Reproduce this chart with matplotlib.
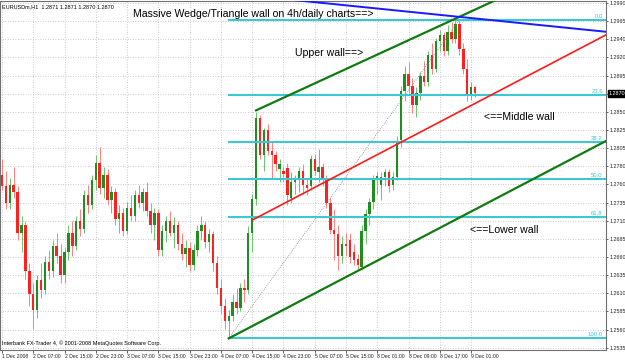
import numpy as np
import matplotlib
matplotlib.use("Agg")
import matplotlib.pyplot as plt
import matplotlib.transforms as mtransforms

plt.rcParams['font.family'] = ['Liberation Sans', 'DejaVu Sans']

# EURUSDm H1 bars, 1 Dec 2008 23:00 .. 9 Dec 2008
opens = [1.2765, 1.2750, 1.2728, 1.2752, 1.2742, 1.2690, 1.2700, 1.2640, 1.2610, 1.2590,
         1.2628, 1.2615, 1.2652, 1.2640, 1.2672, 1.2660, 1.2635, 1.2665, 1.2690, 1.2672,
         1.2705, 1.2695, 1.2738, 1.2725, 1.2758, 1.2780, 1.2748, 1.2765, 1.2732, 1.2742,
         1.2708, 1.2715, 1.2692, 1.2722, 1.2712, 1.2738, 1.2728, 1.2742, 1.2718, 1.2700,
         1.2715, 1.2668, 1.2692, 1.2705, 1.2690, 1.2700, 1.2675, 1.2662, 1.2670, 1.2648,
         1.2668, 1.2692, 1.2700, 1.2678, 1.2688, 1.2650, 1.2618, 1.2595, 1.2575, 1.2582,
         1.2600, 1.2592, 1.2618, 1.2615, 1.2690, 1.2733, 1.2838, 1.2790, 1.2822, 1.2796,
         1.2790, 1.2772, 1.2770, 1.2773, 1.2735, 1.2755, 1.2758, 1.2770, 1.2752, 1.2750,
         1.2785, 1.2768, 1.2775, 1.2760, 1.2728, 1.2693, 1.2688, 1.2660, 1.2675, 1.2680,
         1.2665, 1.2656, 1.2646, 1.2692, 1.2714, 1.2730, 1.2759, 1.2752, 1.2762, 1.2768,
         1.2752, 1.2762, 1.2810, 1.2873, 1.2895, 1.2880, 1.2855, 1.2870, 1.2892, 1.2885,
         1.2920, 1.2902, 1.2938, 1.2945, 1.2925, 1.2950, 1.2940, 1.2960, 1.2928, 1.2902,
         1.2868, 1.2878]
highs = [1.2785, 1.2770, 1.2760, 1.2775, 1.2750, 1.2712, 1.2705, 1.2650, 1.2625, 1.2635,
         1.2650, 1.2660, 1.2668, 1.2680, 1.2690, 1.2675, 1.2670, 1.2700, 1.2705, 1.2712,
         1.2720, 1.2745, 1.2752, 1.2765, 1.2790, 1.2800, 1.2775, 1.2772, 1.2750, 1.2748,
         1.2725, 1.2722, 1.2730, 1.2738, 1.2745, 1.2752, 1.2748, 1.2755, 1.2728, 1.2722,
         1.2720, 1.2700, 1.2712, 1.2718, 1.2710, 1.2705, 1.2690, 1.2680, 1.2678, 1.2675,
         1.2700, 1.2712, 1.2705, 1.2695, 1.2692, 1.2660, 1.2630, 1.2605, 1.2590, 1.2610,
         1.2618, 1.2625, 1.2630, 1.2698, 1.2740, 1.2846, 1.2842, 1.2825, 1.2830, 1.2808,
         1.2795, 1.2785, 1.2775, 1.2780, 1.2768, 1.2765, 1.2775, 1.2778, 1.2760, 1.2790,
         1.2792, 1.2798, 1.2780, 1.2765, 1.2735, 1.2720, 1.2700, 1.2685, 1.2690, 1.2690,
         1.2675, 1.2662, 1.2700, 1.2720, 1.2735, 1.2765, 1.2768, 1.2768, 1.2772, 1.2772,
         1.2768, 1.2815, 1.2880, 1.2905, 1.2910, 1.2890, 1.2878, 1.2898, 1.2912, 1.2925,
         1.2935, 1.2942, 1.2952, 1.2950, 1.2958, 1.2962, 1.2966, 1.2965, 1.2935, 1.2915,
         1.2885, 1.2880]
lows = [1.2745, 1.2720, 1.2720, 1.2735, 1.2680, 1.2665, 1.2630, 1.2595, 1.2565, 1.2580,
        1.2605, 1.2610, 1.2630, 1.2632, 1.2650, 1.2625, 1.2625, 1.2655, 1.2660, 1.2668,
        1.2685, 1.2690, 1.2715, 1.2720, 1.2745, 1.2740, 1.2735, 1.2725, 1.2715, 1.2700,
        1.2690, 1.2685, 1.2688, 1.2705, 1.2705, 1.2722, 1.2718, 1.2712, 1.2690, 1.2680,
        1.2660, 1.2660, 1.2678, 1.2685, 1.2670, 1.2668, 1.2655, 1.2645, 1.2640, 1.2642,
        1.2660, 1.2680, 1.2670, 1.2665, 1.2640, 1.2610, 1.2585, 1.2565, 1.2553, 1.2575,
        1.2585, 1.2588, 1.2600, 1.2610, 1.2665, 1.2725, 1.2785, 1.2770, 1.2790, 1.2760,
        1.2770, 1.2755, 1.2755, 1.2725, 1.2728, 1.2740, 1.2742, 1.2740, 1.2738, 1.2745,
        1.2765, 1.2755, 1.2750, 1.2722, 1.2688, 1.2655, 1.2641, 1.2650, 1.2660, 1.2650,
        1.2648, 1.2643, 1.2642, 1.2675, 1.2700, 1.2720, 1.2740, 1.2732, 1.2750, 1.2742,
        1.2745, 1.2758, 1.2800, 1.2860, 1.2870, 1.2845, 1.2840, 1.2862, 1.2880, 1.2880,
        1.2895, 1.2898, 1.2925, 1.2918, 1.2920, 1.2935, 1.2935, 1.2920, 1.2895, 1.2860,
        1.2862, 1.2865]
closes = [1.2750, 1.2728, 1.2752, 1.2742, 1.2690, 1.2700, 1.2640, 1.2610, 1.2590, 1.2628,
          1.2615, 1.2652, 1.2640, 1.2672, 1.2660, 1.2635, 1.2665, 1.2690, 1.2672, 1.2705,
          1.2695, 1.2738, 1.2725, 1.2758, 1.2780, 1.2748, 1.2765, 1.2732, 1.2742, 1.2708,
          1.2715, 1.2692, 1.2722, 1.2712, 1.2738, 1.2728, 1.2742, 1.2718, 1.2700, 1.2715,
          1.2668, 1.2692, 1.2705, 1.2690, 1.2700, 1.2675, 1.2662, 1.2670, 1.2648, 1.2668,
          1.2692, 1.2700, 1.2678, 1.2688, 1.2650, 1.2618, 1.2595, 1.2575, 1.2582, 1.2600,
          1.2592, 1.2618, 1.2615, 1.2690, 1.2733, 1.2838, 1.2790, 1.2822, 1.2796, 1.2790,
          1.2779, 1.2778, 1.2766, 1.2739, 1.2755, 1.2760, 1.2770, 1.2752, 1.2748, 1.2785,
          1.2770, 1.2775, 1.2760, 1.2728, 1.2693, 1.2688, 1.2660, 1.2675, 1.2672, 1.2658,
          1.2655, 1.2648, 1.2692, 1.2714, 1.2730, 1.2759, 1.2763, 1.2762, 1.2768, 1.2750,
          1.2762, 1.2808, 1.2873, 1.2895, 1.2880, 1.2855, 1.2870, 1.2892, 1.2885, 1.2920,
          1.2902, 1.2938, 1.2945, 1.2925, 1.2950, 1.2940, 1.2960, 1.2928, 1.2902, 1.2868,
          1.2878, 1.2870]

time_labels = ['1 Dec 2008', '2 Dec 07:00', '2 Dec 15:00', '2 Dec 23:00', '3 Dec 07:00',
               '3 Dec 15:00', '3 Dec 23:00', '4 Dec 07:00', '4 Dec 15:00', '4 Dec 23:00',
               '5 Dec 07:00', '5 Dec 15:00', '8 Dec 01:00', '8 Dec 09:00', '8 Dec 17:00',
               '9 Dec 01:00']
price_labels = ['1.2990', '1.2965', '1.2940', '1.2920', '1.2895', '1.2870', '1.2850',
                '1.2825', '1.2805', '1.2780', '1.2760', '1.2735', '1.2710', '1.2685',
                '1.2660', '1.2635', '1.2610', '1.2585', '1.2560', '1.2535']

# fibonacci retracement anchors (bar, price)
fib_bars = [58, 117]
fib_prices = [1.2553, 1.2965]
fib_levels = [0.0, 23.6, 38.2, 50.0, 61.8, 100.0]

# trend lines (bar pairs, price pairs)
upper_wall = ([65, 126], [1.2848, 1.2990])
middle_wall = ([64, 155], [1.2706, 1.2947])
lower_wall = ([58, 92], [1.2553, 1.2643])
blue_line = ([80, 150], [1.2988, 1.2952])

n = len(closes)
idx = np.arange(n)
x_right = 154.5

fig = plt.figure(figsize=(6.25, 3.62), dpi=100)
ax = fig.add_axes([0.0, 12 / 362, 606 / 625, 349 / 362])
ax.set_xlim(-0.5, x_right)
ax.set_ylim(1.2538, 1.29895)

# grid
ax.set_xticks(np.arange(0, len(time_labels) * 8, 8))
ax.set_xticklabels(time_labels, fontsize=3.7, ha='left')
ax.set_yticks(np.linspace(1.2987, 1.2541, len(price_labels)))
ax.set_yticklabels(price_labels, fontsize=3.9)
ax.yaxis.tick_right()
ax.tick_params(axis='x', length=2, pad=1.2, width=0.5, colors='#202020')
ax.tick_params(axis='y', length=1.5, pad=1.0, width=0.5, colors='#202020')
ax.grid(True, color='#b8b8c0', linestyle=(0, (1, 2)), linewidth=0.6)
ax.set_axisbelow(True)
for s in ax.spines.values():
    s.set_color('#707070')
    s.set_linewidth(0.8)

# candles
green = '#1e8f1e'
red = '#ff2020'
for i in idx:
    o, h, l, c = opens[i], highs[i], lows[i], closes[i]
    col = green if c >= o else red
    wick = '#6cc46c' if c >= o else '#ff8080'
    ax.vlines(i, l, h, color=wick, linewidth=0.7, zorder=2)
    body = max(abs(c - o), 0.00008)
    ax.bar(i, body, bottom=min(o, c), width=0.62, color=col, linewidth=0, zorder=3)

# fibonacci
hi, lo = fib_prices[1], fib_prices[0]
ax.plot(fib_bars, fib_prices, color='#808080', linestyle=(0, (1, 1.5)), linewidth=0.6, zorder=4)
for lvl in fib_levels:
    p = hi - (hi - lo) * lvl / 100
    ax.plot([fib_bars[0], x_right], [p, p], color='#3cc8d2', linewidth=1.5, zorder=4)
    ax.text(x_right - 0.8, p + 0.00012, '%.1f' % lvl, color='#3cc8d2', fontsize=4.3,
            ha='right', va='bottom', zorder=5)


def ray(line, **kw):
    b, p = line
    slope = (p[1] - p[0]) / (b[1] - b[0])
    ax.plot([b[0], 170], [p[0], p[0] + slope * (170 - b[0])], **kw)


def full_line(line, **kw):
    b, p = line
    slope = (p[1] - p[0]) / (b[1] - b[0])
    ax.plot([40, 170], [p[0] + slope * (40 - b[0]), p[0] + slope * (170 - b[0])], **kw)


ray(upper_wall, color='#117a11', linewidth=1.6, zorder=5)
ray(lower_wall, color='#117a11', linewidth=1.6, zorder=5)
ray(middle_wall, color='#ff1a1a', linewidth=1.2, zorder=5)
full_line(blue_line, color='#1a1aff', linewidth=1.4, zorder=5)

# annotations
ax.text(33.5, 1.29725, 'Massive Wedge/Triangle wall on 4h/daily charts==>', fontsize=7.6,
        ha='left', va='center', zorder=6)
ax.text(75, 1.2922, 'Upper wall==>', fontsize=7.6, ha='left', va='center', zorder=6)
ax.text(123.3, 1.2840, '<==Middle wall', fontsize=7.6, ha='left', va='center', zorder=6)
ax.text(119.7, 1.2693, '<==Lower wall', fontsize=7.6, ha='left', va='center', zorder=6)

ax.text(0.004, 0.992, 'EURUSDm,H1  1.2871 1.2871 1.2870 1.2870', transform=ax.transAxes,
        fontsize=4.0, ha='left', va='top')
ax.text(0.004, 0.012, 'Interbank FX-Trader 4, \u00a9 2001-2008 MetaQuotes Software Corp.',
        transform=ax.transAxes, fontsize=4.0, ha='left', va='bottom')

# current price box
trans = mtransforms.blended_transform_factory(ax.transAxes, ax.transData)
ax.text(1.004, closes[-1], '%.4f' % closes[-1], transform=trans, fontsize=3.9,
        color='white', ha='left', va='center', clip_on=False, zorder=7,
        bbox=dict(boxstyle='square,pad=0.15', fc='black', ec='black'))

fig.savefig('out.png', dpi=100, facecolor='white')
